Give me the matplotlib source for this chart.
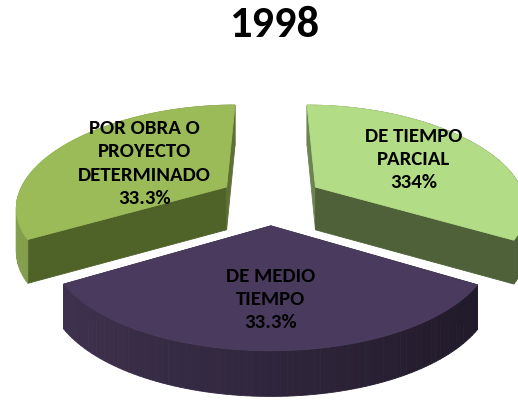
import numpy as np
import matplotlib
matplotlib.use("Agg")
import matplotlib.pyplot as plt
from matplotlib.patches import Polygon

# ---- data ----
title = "1998"
categories = ["DE TIEMPO\nPARCIAL", "DE MEDIO\nTIEMPO", "POR OBRA O\nPROYECTO\nDETERMINADO"]
values = [33.4, 33.3, 33.3]
pct_labels = ["334%", "33.3%", "33.3%"]

# ---- style ----
face_colors = ["#b3dc86", "#4a3b5e", "#9bbb59"]
radial_wall_colors = ["#4f6139", "#2e2540", "#4f6228"]
label_radius = [0.60, 0.62, 0.50]
W, Hpx = 518, 401
CX, CY = 271.0, 199.5
RX, P, A, B = 210.0, 0.185, 101.5, 15.6
H0 = 43.0
EXPLODE = 0.25
START = 90.0
LABEL_DY = 0.0
FONT = ["Carlito", "DejaVu Sans"]

fig = plt.figure(figsize=(W / 100, Hpx / 100), dpi=100)
ax = fig.add_axes([0, 0, 1, 1])
ax.set_xlim(0, W)
ax.set_ylim(Hpx, 0)
ax.axis("off")


def proj(u, v, z=0.0):
    g = 1 - P * v
    X = CX + u * RX * g
    Y = CY - A * v + B * v * v + z * H0 * (1 - 0.05 * v)
    return X, Y


def shade(color, f):
    c = np.array(matplotlib.colors.to_rgb(color)) * f
    return tuple(np.clip(c, 0, 1))


def quad(ax, pts, color, z):
    poly = Polygon(pts, closed=True, facecolor=color, edgecolor=color, linewidth=0.6, zorder=z)
    ax.add_patch(poly)


total = float(sum(values))
spans = [v / total * 360.0 for v in values]
angles = []
a = START
for s in spans:
    angles.append((a, a - s))
    a -= s

order = sorted(range(len(values)), key=lambda i: -np.sin(np.radians((angles[i][0] + angles[i][1]) / 2)))

label_pos = {}
zbase = 1
for i in order:
    a0, a1 = angles[i]
    mid = np.radians((a0 + a1) / 2)
    ou, ov = EXPLODE * np.cos(mid), EXPLODE * np.sin(mid)
    th = np.radians(np.linspace(a1, a0, 80))
    us = ou + np.cos(th)
    vs = ov + np.sin(th)
    base = face_colors[i]

    walls_back, walls_front = [], []
    for k in range(len(th) - 1):
        tm = (th[k] + th[k + 1]) / 2
        pts = [proj(us[k], vs[k], 0), proj(us[k + 1], vs[k + 1], 0),
               proj(us[k + 1], vs[k + 1], 1), proj(us[k], vs[k], 1)]
        col = shade(base, 0.64 + 0.23 * (-np.cos(tm)))
        if np.sin(tm) > 0.05:
            walls_back.append((pts, col))
        else:
            walls_front.append((pts, col))
    for pts, col in walls_back:
        quad(ax, pts, col, zbase)
    for ang in (a0, a1):
        t = np.radians(ang)
        pu, pv = ou + np.cos(t), ov + np.sin(t)
        pts = [proj(ou, ov, 0), proj(pu, pv, 0), proj(pu, pv, 1), proj(ou, ov, 1)]
        nrm = t - np.pi / 2 if ang == a1 else t + np.pi / 2
        col = radial_wall_colors[i] if np.sin(nrm) < 0 else shade(base, 0.6)
        quad(ax, pts, col, zbase + 1)
    for pts, col in walls_front:
        quad(ax, pts, col, zbase + 2)
    face = [proj(ou, ov, 0)] + [proj(u, v, 0) for u, v in zip(us, vs)]
    quad(ax, face, base, zbase + 3)
    r = label_radius[i]
    lx, ly = proj(ou + r * np.cos(mid), ov + r * np.sin(mid), 0)
    label_pos[i] = (lx, ly + LABEL_DY)
    zbase += 4

for i in range(len(values)):
    lx, ly = label_pos[i]
    ax.text(lx, ly, categories[i] + "\n" + pct_labels[i], ha="center", va="center",
            fontsize=15, fontweight="bold", family=FONT,
            linespacing=1.45, color="black", zorder=100)

ax.text(274, 25, title, ha="center", va="center", fontsize=32, fontweight="bold",
        family=FONT, color="black", zorder=100)

fig.savefig("out.png", dpi=100, facecolor="white")
